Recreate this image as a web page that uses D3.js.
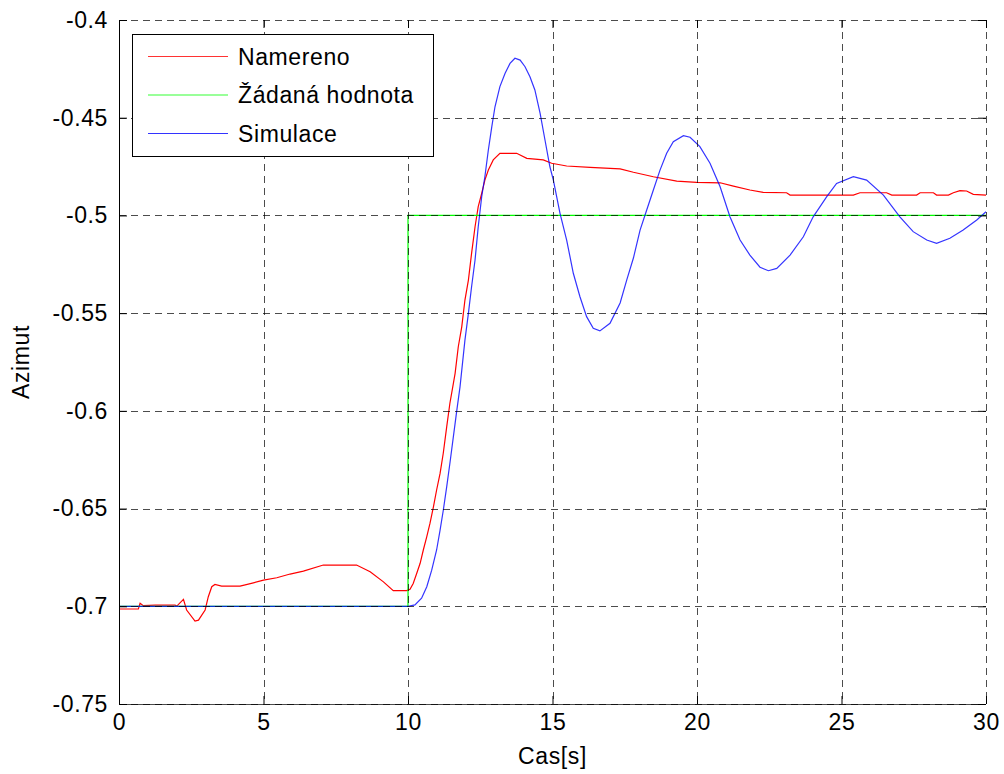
<!DOCTYPE html>
<html>
<head>
<meta charset="utf-8">
<script src="https://cdn.jsdelivr.net/npm/d3@7"></script>
<style>
  body { margin: 0; background: #fff; }
  text { font-family: "Liberation Sans", Arial, sans-serif; fill: #000; }
</style>
</head>
<body>
<svg id="chart" width="1004" height="774"></svg>
<script>
// measured azimuth (Namereno)
const namerenoT = [0, 0.67, 0.73, 0.84, 1.25, 1.94, 2.0, 2.23, 2.34, 2.63, 2.75, 2.98, 3.09, 3.21, 3.32,
  3.55, 4.19, 4.65, 5.0, 5.46, 5.92, 6.38, 7.07, 8.22, 8.69, 9.15, 9.49, 9.95, 10.07, 10.18, 10.30,
  10.42, 10.53, 10.65, 10.76, 10.88, 10.99, 11.11, 11.22, 11.34, 11.45, 11.57, 11.63, 11.74, 11.86,
  11.97, 12.09, 12.20, 12.32, 12.43, 12.55, 12.66, 12.78, 12.95, 13.18, 13.76, 14.11, 14.68, 14.97,
  15.49, 16.30, 17.34, 17.80, 18.49, 19.30, 19.99, 20.80, 21.26, 21.83, 22.29, 23.10, 23.22, 25.41,
  25.64, 26.56, 26.74, 27.60, 27.72, 28.18, 28.29, 28.70, 28.87, 29.10, 29.33, 29.56, 30];
const namerenoV = [-0.7014, -0.7014, -0.6985, -0.6997, -0.6994, -0.6994, -0.6999, -0.6965, -0.7019,
  -0.7076, -0.7071, -0.7019, -0.6951, -0.6900, -0.6888, -0.6897, -0.6897, -0.6880, -0.6866, -0.6854,
  -0.6835, -0.6820, -0.6789, -0.6789, -0.6823, -0.6875, -0.6920, -0.6920, -0.6913, -0.6883, -0.6832,
  -0.6780, -0.6712, -0.6644, -0.6576, -0.6491, -0.6405, -0.6320, -0.6217, -0.6081, -0.5961, -0.5859,
  -0.5808, -0.5672, -0.5570, -0.5433, -0.5331, -0.5194, -0.5058, -0.4955, -0.4887, -0.4819, -0.4768,
  -0.4716, -0.4682, -0.4682, -0.4708, -0.4716, -0.4733, -0.4747, -0.4754, -0.4762, -0.4779, -0.4802,
  -0.4824, -0.4831, -0.4833, -0.4850, -0.4870, -0.4882, -0.4884, -0.4896, -0.4896, -0.4884, -0.4884,
  -0.4896, -0.4896, -0.4884, -0.4884, -0.4896, -0.4896, -0.4884, -0.4873, -0.4875, -0.4892, -0.4896];

// setpoint (Zadana hodnota)
const zadanaT = [0, 10, 10, 30];
const zadanaV = [-0.7, -0.7, -0.5, -0.5];

// simulation
const simulaceT = [0, 10, 10.24, 10.47, 10.65, 10.82, 10.99, 11.11, 11.22, 11.34, 11.45, 11.57, 11.69,
  11.80, 11.97, 12.09, 12.20, 12.32, 12.43, 12.55, 12.66, 12.78, 12.90, 13.01, 13.18, 13.36, 13.53,
  13.70, 13.88, 14.05, 14.22, 14.39, 14.57, 14.74, 14.91, 15.03, 15.26, 15.49, 15.72, 15.95, 16.18,
  16.41, 16.64, 16.99, 17.34, 17.57, 17.80, 18.03, 18.26, 18.49, 18.72, 18.95, 19.18, 19.53, 19.76,
  20.10, 20.45, 20.80, 21.14, 21.49, 21.83, 22.18, 22.47, 22.76, 23.22, 23.68, 24.02, 24.49, 24.83,
  25.41, 25.87, 26.45, 27.02, 27.48, 27.95, 28.29, 28.75, 29.21, 29.68, 30];
const simulaceV = [-0.7, -0.7, -0.6993, -0.6959, -0.6900, -0.6815, -0.6712, -0.6610, -0.6510, -0.6388,
  -0.6268, -0.6132, -0.5996, -0.5877, -0.5638, -0.5501, -0.5365, -0.5228, -0.5058, -0.4904, -0.4802,
  -0.4665, -0.4546, -0.4444, -0.4341, -0.4273, -0.4222, -0.4196, -0.4205, -0.4239, -0.4290, -0.4358,
  -0.4477, -0.4614, -0.4751, -0.4819, -0.4989, -0.5126, -0.5296, -0.5416, -0.5518, -0.5578, -0.5591,
  -0.5552, -0.5448, -0.5330, -0.5218, -0.5075, -0.4972, -0.4870, -0.4768, -0.4682, -0.4623, -0.4592,
  -0.4600, -0.4648, -0.4733, -0.4853, -0.5007, -0.5126, -0.5203, -0.5265, -0.5283, -0.5271, -0.5203,
  -0.5109, -0.5007, -0.4904, -0.4836, -0.4802, -0.4819, -0.4896, -0.5007, -0.5083, -0.5126, -0.5143,
  -0.5117, -0.5075, -0.5023, -0.4981];

const xTicks = [0, 5, 10, 15, 20, 25, 30];
const yTicks = [-0.75, -0.7, -0.65, -0.6, -0.55, -0.5, -0.45, -0.4];
const legendLabels = ['Namereno', 'Žádaná hodnota', 'Simulace'];

const plot = {left: 119, right: 986, top: 20, bottom: 704};

const svg = d3.select('#chart');

const x = d3.scaleLinear().domain([0, 30]).range([plot.left, plot.right]);
const y = d3.scaleLinear().domain([-0.75, -0.4]).range([plot.bottom, plot.top]);

const series = [
  {t: namerenoT, v: namerenoV, color: '#ff0000', opacity: 1},
  {t: zadanaT, v: zadanaV, color: '#00ff00', opacity: 1},
  {t: simulaceT, v: simulaceV, color: '#0000ff', opacity: 0.8},
];

const line = d3.line()
  .x(d => x(d[0]))
  .y(d => y(d[1]));

const dataLayer = svg.append('g');
series.forEach(s => {
  dataLayer.append('path')
    .datum(s.t.map((t, i) => [t, s.v[i]]))
    .attr('d', line)
    .attr('fill', 'none')
    .attr('stroke', s.color)
    .attr('stroke-opacity', s.opacity)
    .attr('stroke-width', 1.2);
});

// grid (drawn over data, like the original)
const grid = svg.append('g')
  .attr('stroke', '#000')
  .attr('stroke-opacity', 0.7)
  .attr('stroke-dasharray', '7,5')
  .attr('stroke-width', 1);

grid.selectAll('line.gx')
  .data(xTicks.filter(d => d > 0))
  .join('line')
  .attr('x1', d => Math.round(x(d)) + 0.5)
  .attr('x2', d => Math.round(x(d)) + 0.5)
  .attr('y1', plot.top)
  .attr('y2', plot.bottom);

grid.selectAll('line.gy')
  .data(yTicks)
  .join('line')
  .attr('y1', d => Math.round(y(d)) + 0.5)
  .attr('y2', d => Math.round(y(d)) + 0.5)
  .attr('x1', plot.left)
  .attr('x2', plot.right);

// axes with inward ticks
const fontSize = '23px';
const spacing = '0.6px';

const xAxis = svg.append('g')
  .attr('transform', `translate(0,${plot.bottom})`)
  .call(d3.axisBottom(x).tickValues(xTicks).tickSize(-8).tickPadding(10).tickFormat(d3.format('d')));
svg.append('g')
  .attr('transform', `translate(0,${plot.top})`)
  .call(d3.axisTop(x).tickValues(xTicks).tickSize(-8).tickFormat(''));

const yAxis = svg.append('g')
  .attr('transform', `translate(${plot.left},0)`)
  .call(d3.axisLeft(y).tickValues(yTicks).tickSize(-8).tickPadding(11).tickFormat(d => String(+d.toFixed(2))));
svg.append('g')
  .attr('transform', `translate(${plot.right},0)`)
  .call(d3.axisRight(y).tickValues(yTicks).tickSize(-8).tickFormat(''));

svg.selectAll('.domain').remove();
svg.selectAll('.tick line').attr('stroke', '#000');
svg.selectAll('.tick text')
  .attr('font-size', fontSize)
  .attr('font-family', null)
  .attr('letter-spacing', spacing);

svg.append('line')
  .attr('x1', plot.left + 0.5).attr('x2', plot.left + 0.5)
  .attr('y1', plot.top).attr('y2', plot.bottom + 0.5)
  .attr('stroke', '#000');
svg.append('line')
  .attr('x1', plot.left).attr('x2', plot.right)
  .attr('y1', plot.bottom + 0.5).attr('y2', plot.bottom + 0.5)
  .attr('stroke', '#000').attr('stroke-opacity', 0.7);

// axis titles
svg.append('text')
  .attr('x', (plot.left + plot.right) / 2)
  .attr('y', 764)
  .attr('text-anchor', 'middle')
  .attr('font-size', fontSize)
  .attr('letter-spacing', spacing)
  .text('Cas[s]');

svg.append('text')
  .attr('transform', `translate(29,${(plot.top + plot.bottom) / 2}) rotate(-90)`)
  .attr('text-anchor', 'middle')
  .attr('font-size', fontSize)
  .attr('letter-spacing', spacing)
  .text('Azimut');

// legend
const legend = svg.append('g').attr('transform', 'translate(132,34)');
legend.append('rect')
  .attr('x', 0.5).attr('y', 0.5)
  .attr('width', 301).attr('height', 122)
  .attr('fill', '#fff')
  .attr('stroke', '#000');

series.forEach((s, i) => {
  const ly = 22.5 + i * 38.5;
  legend.append('line')
    .attr('x1', 16).attr('x2', 96)
    .attr('y1', ly).attr('y2', ly)
    .attr('stroke', s.color)
    .attr('stroke-opacity', 0.8)
    .attr('stroke-width', 1);
  legend.append('text')
    .attr('x', 106)
    .attr('y', ly)
    .attr('dy', '0.35em')
    .attr('font-size', fontSize)
    .attr('letter-spacing', spacing)
    .text(legendLabels[i]);
});
</script>
</body>
</html>
